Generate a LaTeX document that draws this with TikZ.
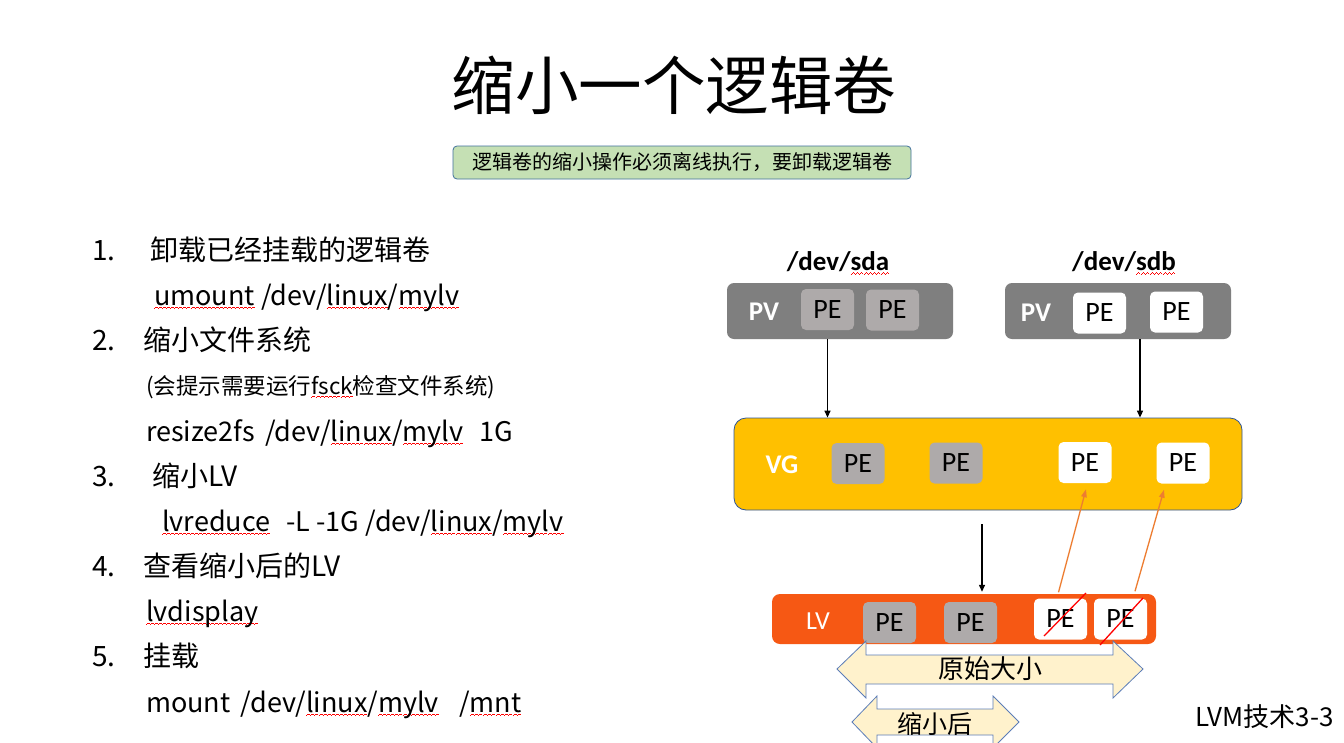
\documentclass[tikz,border=0pt]{standalone}
\usepackage{fontspec}
\setmainfont{Noto Sans CJK SC}
\newfontfamily\carl{Carlito}
\usetikzlibrary{arrows.meta,calc}
\newcommand\wvpiece{\hbox{\rule{1pt}{0.8pt}\raisebox{0.8pt}{\rule{1pt}{0.8pt}}\raisebox{1.6pt}{\rule{1pt}{0.8pt}}\raisebox{0.8pt}{\rule{1pt}{0.8pt}}}}
\newcommand\sq[1]{\setbox0=\hbox{#1}\rlap{\lower4pt\hbox to \wd0{\color{red}\xleaders\wvpiece\hfil}}\box0\relax}
\definecolor{pvgray}{HTML}{7F7F7F}
\definecolor{pegray}{HTML}{AEAAAA}
\definecolor{vgyellow}{HTML}{FFC000}
\definecolor{vgborder}{HTML}{2F5597}
\definecolor{lvorange}{RGB}{246,88,20}
\definecolor{beige}{HTML}{FFF2CC}
\definecolor{arrborder}{HTML}{5B7DB8}
\definecolor{greenfill}{HTML}{C5E0B4}
\definecolor{greenborder}{HTML}{41719C}
\definecolor{linkorange}{HTML}{ED7D31}
\tikzset{
  lst/.style={anchor=base west, inner sep=0pt, font=\fontsize{28}{34}\selectfont},
  code/.style={anchor=base west, inner sep=0pt, font=\fontsize{27}{34}\selectfont},
  lstsmall/.style={anchor=base west, inner sep=0pt, font=\fontsize{22.5}{26}\selectfont},
  pvbox/.style={fill=pvgray, rounded corners=7pt, minimum width=226pt, minimum height=56pt, inner sep=0pt},
  pebox/.style={rounded corners=5pt, minimum width=53pt, minimum height=41pt, inner sep=0pt, font=\carl\fontsize{28}{30}\selectfont},
  pegrey/.style={pebox, fill=pegray},
  pewhite/.style={pebox, fill=white},
  whitebold/.style={text=white, inner sep=0pt, font=\carl\bfseries\fontsize{27}{30}\selectfont},
  devlabel/.style={inner sep=0pt, font=\carl\bfseries\fontsize{27}{30}\selectfont},
  arr/.style={-{Triangle[length=7pt,width=6pt]}, line width=1.3pt, black},
  oarr/.style={-{Triangle[length=8pt,width=5.5pt]}, line width=1.3pt, linkorange},
  cross/.style={red, line width=1.3pt},
  dbl/.style={fill=beige, draw=arrborder, line width=0.8pt, line join=miter},
}
\begin{document}
\begin{tikzpicture}[x=1pt,y=-1pt]
\useasboundingbox (0,0) rectangle (1344,742);
\fill[white] (0,0) rectangle (1344,742);
\clip (0,0) rectangle (1344,742);

% title
\node[inner sep=0pt, font=\fontsize{63.5}{70}\selectfont] (title) at (674,85) {缩小一个逻辑卷};
\node[fill=greenfill, draw=greenborder, line width=0.8pt, rounded corners=4pt, minimum width=458pt, minimum height=33pt, inner sep=0pt, font=\fontsize{20}{24}\selectfont] (note) at (682,162.5) {逻辑卷的缩小操作必须离线执行，要卸载逻辑卷};

% list
\node[lst] (n1) at (92,260) {1.};
\node[lst] (t1) at (150,260) {卸载已经挂载的逻辑卷};
\node[code] (c1) at (154,305) {\sq{umount} /dev/\sq{linux}/\sq{mylv}};
\node[lst] (n2) at (92,350) {2.};
\node[lst] (t2) at (143,350) {缩小文件系统};
\node[lstsmall] (h2) at (146,394) {(会提示需要运行\sq{fsck}检查文件系统)};
\node[code] (c2) at (146,441) {resize2fs\hspace{4pt} /dev/\sq{linux}/\sq{mylv}\hspace{10pt} 1G};
\node[lst] (n3) at (92,486) {3.};
\node[lst] (t3) at (152,486) {缩小LV};
\node[code] (c3) at (162,531) {\sq{lvreduce}\hspace{10pt} -L -1G /dev/\sq{linux}/\sq{mylv}};
\node[lst] (n4) at (92,576) {4.};
\node[lst] (t4) at (143,576) {查看缩小后的LV};
\node[code] (c4) at (146,621) {\sq{lvdisplay}};
\node[lst] (n5) at (92,666) {5.};
\node[lst] (t5) at (143,666) {挂载};
\node[code] (c5) at (146,712) {mount\hspace{4pt} /dev/\sq{linux}/\sq{mylv}\hspace{14pt} /\sq{mnt}};

% PVs
\node[devlabel] (sda) at (838,263) {/dev/\sq{sda}};
\node[devlabel] (sdb) at (1124,263) {/dev/\sq{sdb}};
\node[pvbox] (pva) at (840,311) {};
\node[pvbox] (pvb) at (1118,311) {};
\node[whitebold] (pvalab) at (764,312) {PV};
\node[whitebold] (pvblab) at (1036,313) {PV};
\node[pegrey] (pa1) at (827.5,309.5) {PE};
\node[pegrey] (pa2) at (892.5,310) {PE};
\node[pewhite] (pb1) at (1099.5,313) {PE};
\node[pewhite] (pb2) at (1176.5,312) {PE};

% VG
\node[fill=vgyellow, draw=vgborder, line width=0.8pt, rounded corners=12pt, minimum width=508pt, minimum height=92pt, inner sep=0pt] (vg) at (988,464) {};
\node[whitebold] (vglab) at (782,465) {VG};
\node[pegrey] (v1) at (858,463.5) {PE};
\node[pegrey] (v2) at (956,463) {PE};
\node[pewhite] (v3) at (1085,462.5) {PE};
\node[pewhite] (v4) at (1183,463) {PE};

% LV
\node[fill=lvorange, rounded corners=8pt, minimum width=384pt, minimum height=50pt, inner sep=0pt] (lv) at (964,619) {};
\node[inner sep=0pt, text=white, font=\carl\fontsize{26}{30}\selectfont] (lvlab) at (818,621) {LV};
\node[pegrey] (l1) at (889.5,622.5) {PE};
\node[pegrey] (l2) at (970.5,622.5) {PE};
\node[pewhite] (l3) at (1060.5,619) {PE};
\node[pewhite] (l4) at (1120.5,619) {PE};
\draw[cross] ($(l3)+(-16.5,17)$) -- ($(l3)+(25.5,-26)$);
\draw[cross] ($(l4)+(-20.5,26)$) -- ($(l4)+(22.5,-21)$);

% connectors
\draw[arr] (pa1 |- pva.south) -- (pa1 |- vg.north);
\coordinate (bx) at (1140,0);
\draw[arr] (bx |- pvb.south) -- (bx |- vg.north);
\coordinate (vx) at (982,0);
\draw[arr] ($(vx |- vg.south)+(0,14)$) -- ($(vx |- lv.north)+(0,-2)$);
\draw[oarr] ($(l3.north)+(-2,-6)$) -- ($(v3.south)+(1,6)$);
\draw[oarr] ($(l4.north)+(14.5,-7)$) -- ($(v4.south)+(-19,6)$);

% double arrows
\draw[dbl] (837,669) -- (866,641) -- (866,655) -- (1113,655) -- (1113,641) -- (1143,669) -- (1113,698) -- (1113,684) -- (866,684) -- (866,698) -- cycle;
\node[inner sep=0pt, font=\fontsize{26}{30}\selectfont] (orig) at (990,669) {原始大小};
\draw[dbl] (852,722) -- (877,696) -- (877,709) -- (993,709) -- (993,696) -- (1019,722) -- (993,748) -- (993,735) -- (877,735) -- (877,748) -- cycle;
\node[inner sep=0pt, font=\fontsize{25}{30}\selectfont] (after) at (935,724) {缩小后};

% footer
\node[anchor=east, inner sep=0pt, font=\fontsize{26}{30}\selectfont] (foot) at (1334,717) {LVM技术3-3};
\end{tikzpicture}
\end{document}
